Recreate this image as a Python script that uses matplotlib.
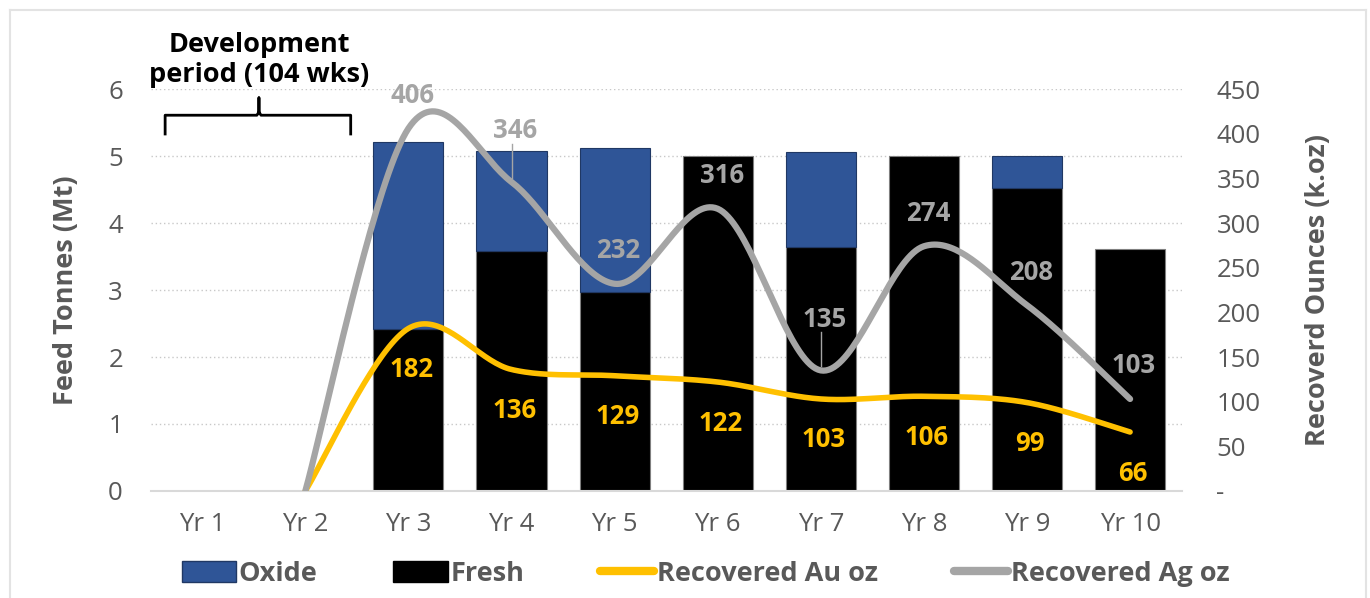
import numpy as np
import matplotlib
matplotlib.use("Agg")
import matplotlib.pyplot as plt
from matplotlib.lines import Line2D
from matplotlib.patches import Patch

# data
years = ["Yr 1", "Yr 2", "Yr 3", "Yr 4", "Yr 5", "Yr 6", "Yr 7", "Yr 8", "Yr 9", "Yr 10"]
fresh = [0, 0, 2.42, 3.58, 2.97, 5.0, 3.64, 5.0, 4.52, 3.61]
oxide = [0, 0, 2.79, 1.49, 2.15, 0, 1.42, 0, 0.48, 0]
au_oz = [None, 0, 182, 136, 129, 122, 103, 106, 99, 66]
ag_oz = [None, 0, 406, 346, 232, 316, 135, 274, 208, 103]

OXIDE = "#2F5597"
GOLD = "#FFC000"
SILVER = "#A5A5A5"
TXT = "#595959"

plt.rcParams["font.family"] = ["Open Sans", "DejaVu Sans"]


def smooth(xs, ys, n=40):
    # Excel-like smoothed line (Catmull-Rom as cubic Bezier)
    pts = np.column_stack([xs, ys]).astype(float)
    out = []
    for i in range(len(pts) - 1):
        p0 = pts[max(i - 1, 0)]
        p1 = pts[i]
        p2 = pts[i + 1]
        p3 = pts[min(i + 2, len(pts) - 1)]
        c1 = p1 + (p2 - p0) / 6
        c2 = p2 - (p3 - p1) / 6
        t = np.linspace(0, 1, n)[:, None]
        seg = (1 - t) ** 3 * p1 + 3 * (1 - t) ** 2 * t * c1 + 3 * (1 - t) * t ** 2 * c2 + t ** 3 * p2
        out.append(seg if i == 0 else seg[1:])
    seg = np.vstack(out)
    return seg[:, 0], seg[:, 1]


fig = plt.figure(figsize=(13.7, 5.98), dpi=100)
ax = fig.add_axes([0.110, 0.179, 0.7525, 0.672])
ax2 = ax.twinx()

x = np.arange(len(years))
ax.bar(x, fresh, width=0.68, color="black", edgecolor="#7F7F7F", linewidth=0.8, zorder=2)
ox_x = [i for i in x if oxide[i] > 0]
ax.bar(ox_x, [oxide[i] for i in ox_x], width=0.68, bottom=[fresh[i] for i in ox_x],
       color=OXIDE, edgecolor="#203864", linewidth=0.8, zorder=2)

ax.set_xlim(-0.5, 9.5)
ax.set_ylim(0, 6)
ax.set_yticks(range(7))
ax.set_xticks(x)
ax.set_xticklabels(years)
ax.grid(axis="y", color="#C8C8C8", linestyle=(0, (1, 2)), linewidth=1.0, zorder=0)
ax.set_axisbelow(True)
for s in ["top", "right", "left"]:
    ax.spines[s].set_visible(False)
    ax2.spines[s].set_visible(False)
ax.spines["bottom"].set_color("#D9D9D9")
ax.spines["bottom"].set_linewidth(1.5)
ax2.spines["bottom"].set_visible(False)
ax.tick_params(axis="both", length=0, labelsize=18.5, colors=TXT, pad=15)
ax.tick_params(axis="y", pad=20)
ax.set_ylabel("Feed Tonnes (Mt)", fontsize=19.5, fontweight="bold", color=TXT, labelpad=21)

ax2.set_ylim(0, 450)
ax2.set_yticks(range(0, 451, 50))
ax2.set_yticklabels(["-"] + [str(v) for v in range(50, 451, 50)])
ax2.tick_params(axis="y", length=0, labelsize=18.5, colors=TXT, pad=25)
ax2.set_ylabel("Recoverd Ounces (k.oz)", fontsize=19.5, fontweight="bold", color=TXT, labelpad=32)

# smoothed lines
xa = [i for i, v in enumerate(au_oz) if v is not None]
va = [v for v in au_oz if v is not None]
sx, sy = smooth(xa, va)
ax2.plot(sx, sy, color=GOLD, linewidth=4, solid_capstyle="round", zorder=3)
xg = [i for i, v in enumerate(ag_oz) if v is not None]
vg = [v for v in ag_oz if v is not None]
sx, sy = smooth(xg, vg)
ax2.plot(sx, sy, color=SILVER, linewidth=4.5, solid_capstyle="round", zorder=4)

# data labels
for i, v in zip(xa, va):
    if v == 0:
        continue
    ax2.annotate(str(v), (i, v), xytext=(3, -41), textcoords="offset pixels",
                 ha="center", va="center", fontsize=18.5, fontweight="bold", color=GOLD, zorder=6)
for i, v in zip(xg, vg):
    if v == 0:
        continue
    up = 51 if v in (346, 135) else 33
    ax2.annotate(str(v), (i, v), xytext=(4, up), textcoords="offset pixels",
                 ha="center", va="center", fontsize=18.5, fontweight="bold", color=SILVER, zorder=6)
    if up == 51:
        p = ax2.transData.transform((i, v))
        inv = ax2.transData.inverted()
        top = inv.transform((p[0], p[1] + 38))
        bot = inv.transform((p[0], p[1] + 4))
        ax2.plot([i, i], [bot[1], top[1]], color=SILVER, linewidth=1, zorder=5)

# development period bracket
bx0, bx1, bmid = -0.36, 1.44, 0.55
ax.plot([bx0, bx0, bmid - 0.02, bmid, bmid, bmid, bmid + 0.02, bx1, bx1],
        [5.33, 5.61, 5.61, 5.66, 5.87, 5.66, 5.61, 5.61, 5.33],
        color="black", linewidth=2, clip_on=False, zorder=6)
ax.text(bmid, 6.44, "Development\nperiod (104 wks)", ha="center", va="center",
        fontsize=19.5, fontweight="bold", color="black", linespacing=1.2)

# legend
handles = [Patch(facecolor=OXIDE, edgecolor="#203864", label="Oxide"),
           Patch(facecolor="black", edgecolor="black", label="Fresh"),
           Line2D([], [], color=GOLD, linewidth=6, solid_capstyle="round", label="Recovered Au oz"),
           Line2D([], [], color=SILVER, linewidth=6, solid_capstyle="round", label="Recovered Ag oz")]
leg = fig.legend(handles=handles, loc="center", bbox_to_anchor=(0.515, 0.04), ncol=4, frameon=False,
                 handlelength=2.0, handleheight=0.8, handletextpad=0.1, columnspacing=2.8,
                 prop={"size": 19.5, "weight": "bold"})
for t in leg.get_texts():
    t.set_color(TXT)

# page frame
fig.add_artist(Line2D([0.0073, 0.9971], [0.983, 0.983], color="#E3E3E3", linewidth=1.5))
fig.add_artist(Line2D([0.0073, 0.0073], [0.983, 0.0], color="#E3E3E3", linewidth=1.5))
fig.add_artist(Line2D([0.9971, 0.9971], [0.983, 0.0], color="#E3E3E3", linewidth=1.5))

fig.savefig("out.png", dpi=100)
